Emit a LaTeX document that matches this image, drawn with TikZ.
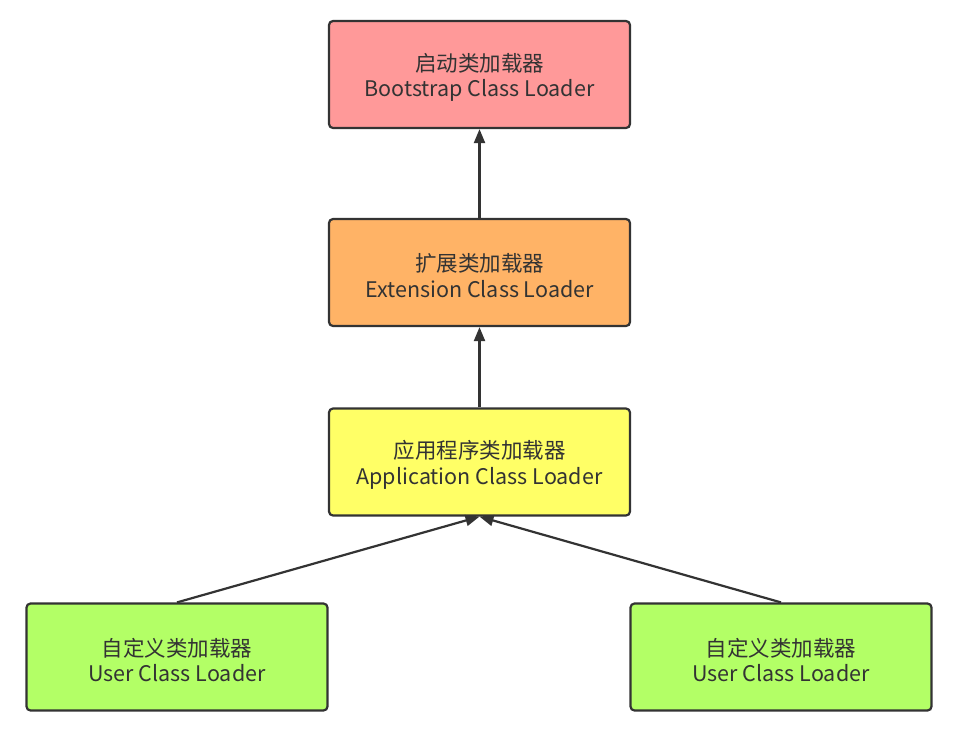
\documentclass[tikz,border=0pt]{standalone}
\usepackage{fontspec}
\setmainfont{Noto Sans CJK SC}
\usetikzlibrary{arrows.meta}
\definecolor{ink}{HTML}{333333}
\definecolor{cboot}{HTML}{FF9999}
\definecolor{cext}{HTML}{FFB366}
\definecolor{capp}{HTML}{FFFF66}
\definecolor{cuser}{HTML}{B3FF66}
\newcommand{\lowr}{\rule{0pt}{24pt}}
\tikzset{
  box/.style={draw=ink, line width=2.2pt, rounded corners=4pt, minimum width=301pt, minimum height=107pt,
    align=center, font=\fontsize{21.5}{25.5}\selectfont, text=ink, inner sep=0pt},
  conn/.style={draw=ink, line width=2.2pt, -{Triangle[length=14pt,width=11pt]}}
}
\begin{document}
\begin{tikzpicture}[x=1pt,y=-1pt]
\useasboundingbox[fill=white] (0,0) rectangle (956,732);
\node[box, fill=cboot] (boot) at (479.5,74.5) {\lowr 启动类加载器\\Bootstrap Class Loader};
\node[box, fill=cext] (ext) at (479.5,272.5) {\lowr 扩展类加载器\\Extension Class Loader};
\node[box, fill=capp] (app) at (479.5,462) {\lowr 应用程序类加载器\\Application Class Loader};
\node[box, fill=cuser] (u1) at (177,657) {\lowr 自定义类加载器\\User Class Loader};
\node[box, fill=cuser] (u2) at (781,657) {\lowr 自定义类加载器\\User Class Loader};
\draw[conn] (ext.north) -- (boot.south);
\draw[conn] (app.north) -- (ext.south);
\draw[conn] (u1.north) -- (app.south);
\draw[conn] (u2.north) -- (app.south);
\end{tikzpicture}
\end{document}
